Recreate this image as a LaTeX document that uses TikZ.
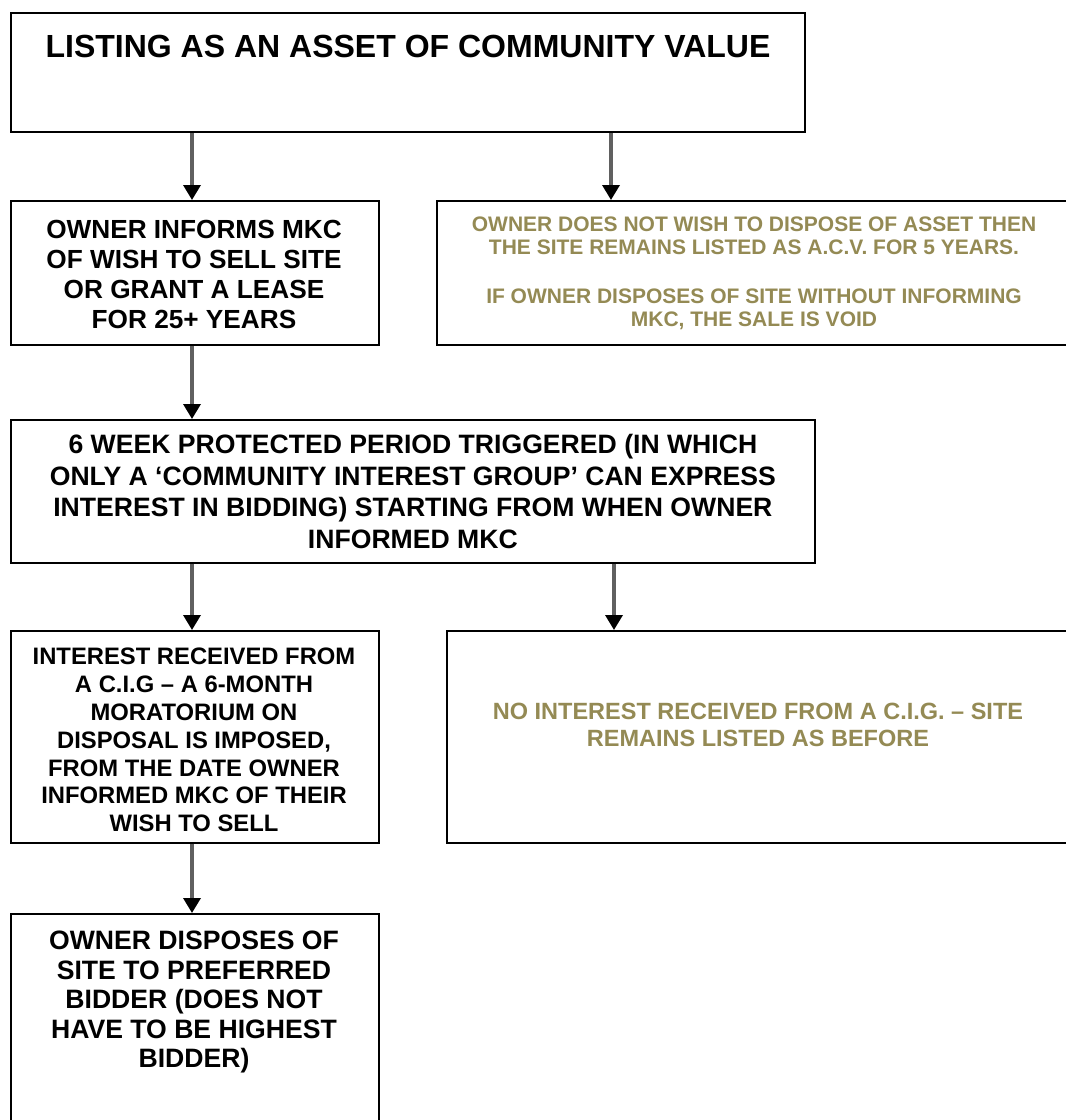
\documentclass[tikz,border=0pt]{standalone}
\usepackage{fontspec}
\setmainfont{Liberation Sans}
\usetikzlibrary{arrows.meta}
\definecolor{olivetext}{HTML}{948A54}
\definecolor{arrowgray}{HTML}{606060}
\tikzset{
  box/.style={draw=black, line width=1.8pt, inner sep=0pt, anchor=north west, align=center},
  txt/.style={inner sep=0pt, align=center, font=\bfseries},
  arr/.style={draw=arrowgray, line width=3.4pt, -{Triangle[width=17pt,length=15pt,color=black]}}
}
\begin{document}
\begin{tikzpicture}[x=1pt,y=-1pt]
\useasboundingbox (0,0) rectangle (1066,1120);
\clip (0,0) rectangle (1066,1120);
\fill[white] (0,0) rectangle (1066,1120);

% boxes
\node[box, minimum width=794pt, minimum height=119pt] (b1) at (10,12) {};
\node[box, minimum width=368pt, minimum height=144pt] (b2) at (10,200) {};
\node[box, minimum width=640pt, minimum height=144pt] (b3) at (436,200) {};
\node[box, minimum width=804pt, minimum height=143pt] (b4) at (10,419) {};
\node[box, minimum width=368pt, minimum height=212pt] (b5) at (10,630) {};
\node[box, minimum width=630pt, minimum height=212pt] (b6) at (446,630) {};
\node[box, minimum width=368pt, minimum height=230pt] (b7) at (10,913) {};

% texts
\node[txt, font=\bfseries\fontsize{32}{36}\selectfont] (t1) at (408,46) {LISTING AS AN ASSET OF COMMUNITY VALUE};
\node[txt, font=\bfseries\fontsize{26.2}{30}\selectfont] (t2) at (194,274) {OWNER INFORMS MKC\\OF WISH TO SELL SITE\\OR GRANT A LEASE\\FOR 25+ YEARS};
\node[txt, text=olivetext, font=\bfseries\fontsize{21}{23}\selectfont] (t3) at (754,273) {OWNER DOES NOT WISH TO DISPOSE OF ASSET THEN\\THE SITE REMAINS LISTED AS A.C.V. FOR 5 YEARS.\\[26pt]IF OWNER DISPOSES OF SITE WITHOUT INFORMING\\MKC, THE SALE IS VOID};
\node[txt, font=\bfseries\fontsize{26.6}{31.5}\selectfont] (t4) at (b4.center) {6 WEEK PROTECTED PERIOD TRIGGERED (IN WHICH\\ONLY A ‘COMMUNITY INTEREST GROUP’ CAN EXPRESS\\INTEREST IN BIDDING) STARTING FROM WHEN OWNER\\INFORMED MKC};
\node[txt, font=\bfseries\fontsize{23.8}{27.8}\selectfont] (t5) at (194,740) {INTEREST RECEIVED FROM\\A C.I.G – A 6-MONTH\\MORATORIUM ON\\DISPOSAL IS IMPOSED,\\FROM THE DATE OWNER\\INFORMED MKC OF THEIR\\WISH TO SELL};
\node[txt, text=olivetext, font=\bfseries\fontsize{23.5}{27}\selectfont] (t6) at (758,725) {NO INTEREST RECEIVED FROM A C.I.G. – SITE\\REMAINS LISTED AS BEFORE};
\node[txt, font=\bfseries\fontsize{26.6}{29.5}\selectfont] (t7) at (194,1002) {OWNER DISPOSES OF\\SITE TO PREFERRED\\BIDDER (DOES NOT\\HAVE TO BE HIGHEST\\BIDDER)};

% connectors
\draw[arr] ([xshift=182pt]b1.south west) -- ([xshift=182pt]b2.north west);
\draw[arr] ([xshift=601pt]b1.south west) -- ([xshift=175pt]b3.north west);
\draw[arr] ([xshift=182pt]b2.south west) -- ([xshift=182pt]b4.north west);
\draw[arr] ([xshift=182pt]b4.south west) -- ([xshift=182pt]b5.north west);
\draw[arr] ([xshift=604pt]b4.south west) -- ([xshift=168pt]b6.north west);
\draw[arr] ([xshift=182pt]b5.south west) -- ([xshift=182pt]b7.north west);
\end{tikzpicture}
\end{document}
